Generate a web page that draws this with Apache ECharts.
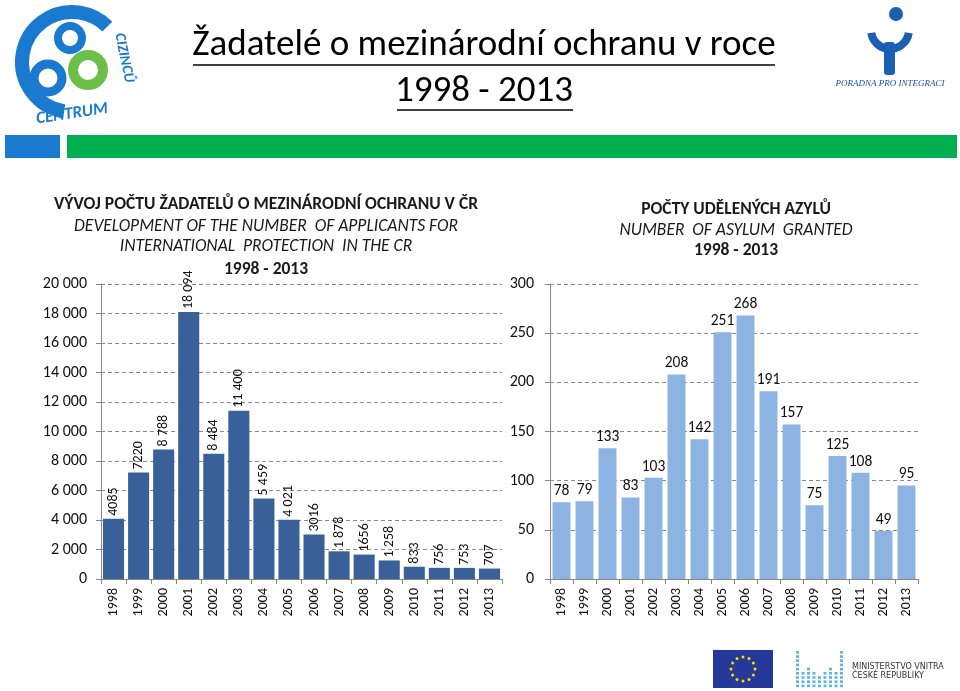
<!DOCTYPE html>
<html>
<head>
<meta charset="utf-8">
<script src="https://cdn.jsdelivr.net/npm/echarts@6/dist/echarts.min.js"></script>
<style>
html,body{margin:0;padding:0;background:#fff;}
#chart{width:960px;height:691px;}
</style>
</head>
<body>
<div id="chart"></div>
<script>
var years = ['1998','1999','2000','2001','2002','2003','2004','2005','2006','2007','2008','2009','2010','2011','2012','2013'];
var applicants = [4085,7220,8788,18094,8484,11400,5459,4021,3016,1878,1656,1258,833,756,753,707];
var applicantLabels = ['4085','7220','8 788','18 094','8 484','11 400','5 459','4 021','3016','1 878','1656','1 258','833','756','753','707'];
var asylum = [78,79,133,83,103,208,142,251,268,191,157,75,125,108,49,95];

var FONT = "Carlito, 'Liberation Sans Narrow', 'DejaVu Sans Condensed', sans-serif";
var chart = echarts.init(document.getElementById('chart'), null, {renderer:'canvas'});

function fmtThousands(v){
  var s = String(v);
  return s.replace(/\B(?=(\d{3})+(?!\d))/g, ' ');
}

var graphics = [];
// header bars
graphics.push({type:'rect', shape:{x:5,y:135,width:55,height:23}, style:{fill:'#1a7ad0'}});
graphics.push({type:'rect', shape:{x:67,y:135,width:890,height:23}, style:{fill:'#00b050'}});
// header title
graphics.push({type:'text', x:484, y:46, style:{text:'Žadatelé o mezinárodní ochranu v roce', font:"37px " + FONT, fill:'#000', align:'center', verticalAlign:'middle'}});
graphics.push({type:'line', shape:{x1:193,y1:65,x2:775,y2:65}, style:{stroke:'#000', lineWidth:1.5}});
graphics.push({type:'text', x:484, y:92, style:{text:'1998 - 2013', font:"37px " + FONT, fill:'#000', align:'center', verticalAlign:'middle'}});
graphics.push({type:'line', shape:{x1:397,y1:110,x2:573,y2:110}, style:{stroke:'#000', lineWidth:1.5}});

// left logo (approximation)
graphics.push({type:'arc', shape:{cx:72,cy:62,r:50,startAngle:Math.PI*0.55,endAngle:Math.PI*1.75}, style:{stroke:'#1a7ad0', lineWidth:14, fill:null}});
graphics.push({type:'circle', shape:{cx:48,cy:78,r:14}, style:{stroke:'#1a7ad0', lineWidth:9, fill:null}});
graphics.push({type:'circle', shape:{cx:70,cy:38,r:12}, style:{stroke:'#1a7ad0', lineWidth:8, fill:null}});
graphics.push({type:'circle', shape:{cx:88,cy:70,r:15}, style:{stroke:'#6cc04a', lineWidth:10, fill:null}});
graphics.push({type:'text', x:72, y:114, rotation:0.15, style:{text:'CENTRUM', font:"italic bold 17px " + FONT, fill:'#1a7ad0', align:'center', verticalAlign:'middle'}});
graphics.push({type:'text', x:124, y:58, rotation:-Math.PI/2.3, style:{text:'CIZINCŮ', font:"italic bold 15px " + FONT, fill:'#1a7ad0', align:'center', verticalAlign:'middle'}});

// right logo (approximation)
graphics.push({type:'circle', shape:{cx:896,cy:14,r:7}, style:{fill:'#1a5fb4'}});
graphics.push({type:'arc', shape:{cx:890,cy:30,r:19,startAngle:Math.PI*0.05,endAngle:Math.PI*0.95}, style:{stroke:'#1a5fb4', lineWidth:8, fill:null}});
graphics.push({type:'rect', shape:{x:884,y:42,width:11,height:33,r:3}, style:{fill:'#1a5fb4'}});
graphics.push({type:'text', x:890, y:84, style:{text:'PORADNA PRO INTEGRACI', font:"italic 9px 'Liberation Serif', serif", fill:'#1a4fa0', align:'center', verticalAlign:'middle'}});

// chart titles
var TF = 17.5;
graphics.push({type:'text', x:266, y:205, style:{text:'VÝVOJ POČTU ŽADATELŮ O MEZINÁRODNÍ OCHRANU V ČR', font:"bold "+TF+"px " + FONT, fill:'#1a1a1a', align:'center', verticalAlign:'middle'}});
graphics.push({type:'text', x:266, y:227, style:{text:'DEVELOPMENT OF THE NUMBER  OF APPLICANTS FOR', font:"italic "+TF+"px " + FONT, fill:'#1a1a1a', align:'center', verticalAlign:'middle'}});
graphics.push({type:'text', x:266, y:247, style:{text:'INTERNATIONAL  PROTECTION  IN THE CR', font:"italic "+TF+"px " + FONT, fill:'#1a1a1a', align:'center', verticalAlign:'middle'}});
graphics.push({type:'text', x:266, y:270, style:{text:'1998 - 2013', font:"bold "+TF+"px " + FONT, fill:'#1a1a1a', align:'center', verticalAlign:'middle'}});
graphics.push({type:'text', x:736, y:210, style:{text:'POČTY UDĚLENÝCH AZYLŮ', font:"bold "+TF+"px " + FONT, fill:'#1a1a1a', align:'center', verticalAlign:'middle'}});
graphics.push({type:'text', x:736, y:231, style:{text:'NUMBER  OF ASYLUM  GRANTED', font:"italic "+TF+"px " + FONT, fill:'#1a1a1a', align:'center', verticalAlign:'middle'}});
graphics.push({type:'text', x:736, y:251, style:{text:'1998 - 2013', font:"bold "+TF+"px " + FONT, fill:'#1a1a1a', align:'center', verticalAlign:'middle'}});

// EU flag
graphics.push({type:'rect', shape:{x:713,y:650,width:60,height:38}, style:{fill:'#24399a'}});
for (var i=0;i<12;i++){
  var a = i*Math.PI/6;
  graphics.push({type:'circle', shape:{cx:743+12*Math.cos(a), cy:669+12*Math.sin(a), r:1.5}, style:{fill:'#ffdd00'}});
}
// Ministry logo dots
for (var c=0;c<9;c++){
  for (var r=0;r<9;r++){
    var show = (c===0||c===8) ? true : (r>=4 + (c===1||c===7?-1:0) && (r>=5 || c%2===0));
    if (c===4 && r<6) show=false;
    if (show) graphics.push({type:'rect', shape:{x:796+c*5.5,y:651+r*4.2,width:3,height:2.6}, style:{fill:'#5fb3e6'}});
  }
}
graphics.push({type:'text', x:852, y:667, style:{text:'MINISTERSTVO VNITRA', font:"8px 'DejaVu Sans', sans-serif", fill:'#333', align:'left', verticalAlign:'middle'}});
graphics.push({type:'text', x:852, y:676, style:{text:'ČESKÉ REPUBLIKY', font:"8px 'DejaVu Sans', sans-serif", fill:'#333', align:'left', verticalAlign:'middle'}});

var option = {
  animation:false,
  backgroundColor:'#fff',
  textStyle:{fontFamily:FONT},
  graphic: graphics,
  grid:[
    {left:101, right:458, top:284, bottom:112, containLabel:false},
    {left:550, right:42, top:284, bottom:112, containLabel:false}
  ],
  xAxis:[
    {type:'category', gridIndex:0, data:years, boundaryGap:true,
     axisLine:{lineStyle:{color:'#868686'}}, axisTick:{show:true, length:5, lineStyle:{color:'#868686'}},
     axisLabel:{rotate:90, fontSize:14, color:'#111', fontFamily:FONT, margin:9, interval:0}},
    {type:'category', gridIndex:1, data:years, boundaryGap:true,
     axisLine:{lineStyle:{color:'#868686'}}, axisTick:{show:true, length:5, lineStyle:{color:'#868686'}},
     axisLabel:{rotate:90, fontSize:14, color:'#111', fontFamily:FONT, margin:9, interval:0}}
  ],
  yAxis:[
    {type:'value', gridIndex:0, min:0, max:20000, interval:2000,
     axisLine:{show:true, lineStyle:{color:'#868686'}}, axisTick:{show:true, length:5, lineStyle:{color:'#868686'}},
     axisLabel:{fontSize:16, color:'#111', fontFamily:FONT, margin:14, formatter:fmtThousands},
     splitLine:{lineStyle:{type:[4,3], color:'#8a8a8a'}}},
    {type:'value', gridIndex:1, min:0, max:300, interval:50,
     axisLine:{show:true, lineStyle:{color:'#868686'}}, axisTick:{show:true, length:5, lineStyle:{color:'#868686'}},
     axisLabel:{fontSize:16, color:'#111', fontFamily:FONT, margin:16},
     splitLine:{lineStyle:{type:[4,3], color:'#8a8a8a'}}}
  ],
  series:[
    {type:'bar', xAxisIndex:0, yAxisIndex:0, data:applicants, barCategoryGap:'16%',
     itemStyle:{color:'#3a6099'},
     label:{show:true, position:'top', rotate:90, align:'left', verticalAlign:'middle', distance:3,
       fontSize:14, color:'#111', fontFamily:FONT,
       formatter:function(p){return applicantLabels[p.dataIndex];}}},
    {type:'bar', xAxisIndex:1, yAxisIndex:1, data:asylum, barCategoryGap:'22%',
     itemStyle:{color:'#8db3e2'},
     label:{show:true, position:'top', distance:3, fontSize:15.5, color:'#111', fontFamily:FONT}}
  ]
};
chart.setOption(option);
</script>
</body>
</html>
